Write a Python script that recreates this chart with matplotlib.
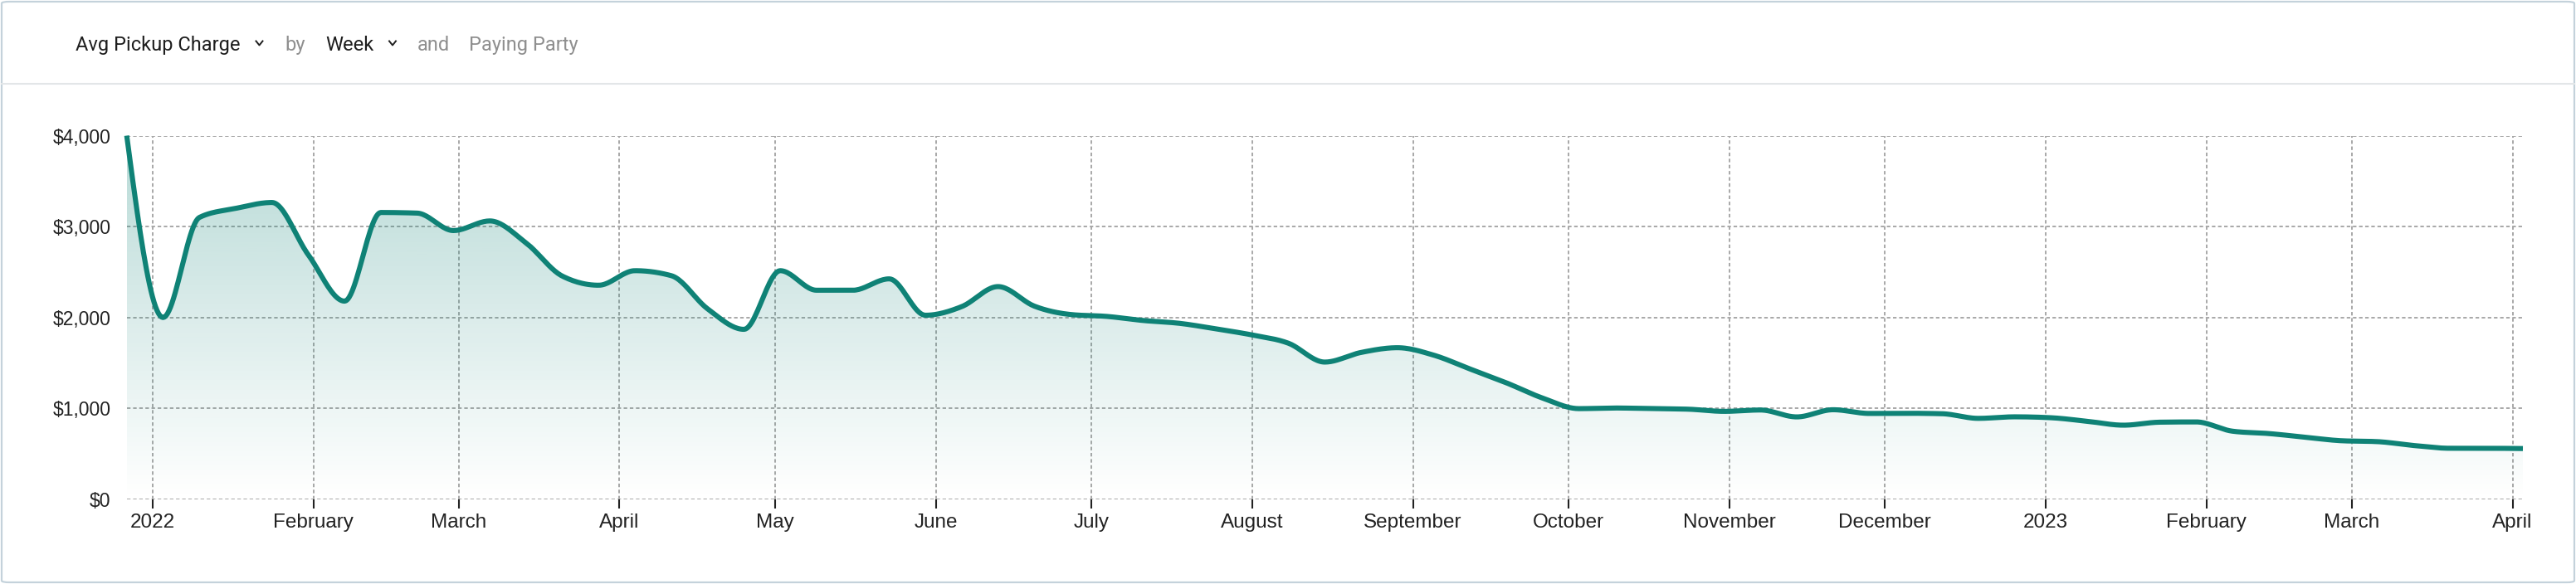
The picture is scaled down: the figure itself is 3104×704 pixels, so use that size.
import numpy as np
import pandas as pd
import matplotlib
matplotlib.use('Agg')
import matplotlib.pyplot as plt
import matplotlib.dates as mdates
from matplotlib.lines import Line2D
from matplotlib.patches import FancyBboxPatch
from matplotlib.ticker import FuncFormatter, FixedLocator

# weekly buckets (week start, Monday)
week_start = '2021-12-27'
n_weeks = 67
avg_charge = [4000, 2000, 3100, 3200, 3265, 2690, 2180, 3155, 3148, 2956,
              3062, 2820, 2455, 2355, 2515, 2460, 2095, 1870, 2515, 2300,
              2300, 2425, 2025, 2120, 2340, 2125, 2033, 2012, 1967, 1936,
              1875, 1808, 1717, 1510, 1616, 1668, 1586, 1434, 1282, 1114,
              998, 1005, 998, 992, 968, 983, 907, 986, 945, 947,
              942, 891, 908, 898, 859, 816, 849, 852, 750, 724,
              684, 645, 635, 592, 562, 562, 559]
y_ticks = [0, 1000, 2000, 3000, 4000]

TEAL = '#0f8276'
W, H = 3104, 704


def monotone_x(x, y, n=24):
    '''d3 style curveMonotoneX through the points'''
    x = np.asarray(x, float)
    y = np.asarray(y, float)
    h = np.diff(x)
    s = np.diff(y) / h
    t = np.zeros_like(y)
    for i in range(1, len(y) - 1):
        s0, s1 = s[i - 1], s[i]
        p = (s0 * h[i] + s1 * h[i - 1]) / (h[i - 1] + h[i])
        t[i] = (np.sign(s0) + np.sign(s1)) * min(abs(s0), abs(s1), 0.5 * abs(p))
    t[0] = (3 * s[0] - t[1]) / 2
    t[-1] = (3 * s[-1] - t[-2]) / 2
    xs, ys = [], []
    u = np.linspace(0, 1, n, endpoint=False)
    for i in range(len(h)):
        x0, x1, y0, y1 = x[i], x[i + 1], y[i], y[i + 1]
        c1x, c1y = x0 + h[i] / 3, y0 + h[i] / 3 * t[i]
        c2x, c2y = x1 - h[i] / 3, y1 - h[i] / 3 * t[i + 1]
        b0, b1, b2, b3 = (1 - u) ** 3, 3 * u * (1 - u) ** 2, 3 * u ** 2 * (1 - u), u ** 3
        xs.append(b0 * x0 + b1 * c1x + b2 * c2x + b3 * x1)
        ys.append(b0 * y0 + b1 * c1y + b2 * c2y + b3 * y1)
    xs.append([x[-1]])
    ys.append([y[-1]])
    return np.concatenate(xs), np.concatenate(ys)


weeks = pd.date_range(week_start, periods=n_weeks, freq='7D')
xnum = mdates.date2num(weeks)
cx, cy = monotone_x(xnum, avg_charge)

fig = plt.figure(figsize=(W / 100, H / 100), dpi=100)


def fx(p):
    return p / W


def fy(p):
    return 1 - p / H


ax_left, ax_right, ax_top, ax_bot = 152.7, 3040, 163.5, 602
ax = fig.add_axes([fx(ax_left), fy(ax_bot), (ax_right - ax_left) / W, (ax_bot - ax_top) / H])
ax.set_xlim(xnum[0], xnum[-1])
ax.set_ylim(0, 4000)

# gradient fill under the curve
poly = ax.fill_between(cx, cy, 0, facecolor='none', edgecolor='none')
grad = np.linspace(0.30, 0.0, 256).reshape(-1, 1)
rgba = np.zeros((256, 1, 4))
rgba[..., :3] = matplotlib.colors.to_rgb(TEAL)
rgba[..., 3] = grad
im = ax.imshow(rgba, extent=[xnum[0], xnum[-1], 0, 4000], aspect='auto',
               origin='upper', zorder=1)
im.set_clip_path(poly.get_paths()[0], transform=ax.transData)

ax.plot(cx, cy, color=TEAL, lw=4.4, solid_capstyle='butt', zorder=3, clip_on=False)

# axes styling
for sp in ax.spines.values():
    sp.set_visible(False)
ax.yaxis.set_major_locator(FixedLocator(y_ticks))
ax.yaxis.set_major_formatter(FuncFormatter(lambda v, _: '${:,.0f}'.format(v)))
ax.xaxis.set_major_locator(mdates.MonthLocator())
ax.xaxis.set_major_formatter(FuncFormatter(
    lambda v, _: mdates.num2date(v).strftime('%Y') if mdates.num2date(v).month == 1
    else mdates.num2date(v).strftime('%B')))
ax.grid(True, color='#a8a8a8', lw=1.4, linestyle=(0, (2.2, 1.6)), zorder=0)
ax.set_axisbelow(True)
ax.tick_params(axis='y', length=0, pad=14, labelsize=16.5, labelcolor='#222222')
ax.tick_params(axis='x', length=8, width=1.5, color='#222222', pad=4,
               labelsize=17.5, labelcolor='#222222')
for lab in ax.get_xticklabels() + ax.get_yticklabels():
    lab.set_family('Liberation Sans')

# header
hdr = [('Avg Pickup Charge', 91, '#1e1e1e'), ('by', 343, '#8f8f8f'),
       ('Week', 392, '#1e1e1e'), ('and', 502.5, '#8f8f8f'),
       ('Paying Party', 565, '#8f8f8f')]
for txt, xp, col in hdr:
    fig.text(fx(xp), fy(61), txt, fontsize=17, family='Roboto', color=col,
             ha='left', va='baseline')
for cxp in (312.5, 473):
    fig.add_artist(Line2D([fx(cxp - 4), fx(cxp), fx(cxp + 4)],
                          [fy(49.5), fy(54.5), fy(49.5)], color='#1e1e1e', lw=1.4))

fig.add_artist(Line2D([fx(2), fx(W - 2)], [fy(101), fy(101)], color='#e3e6e8', lw=1.5))
fig.add_artist(FancyBboxPatch((fx(2), fy(702)), fx(W - 4), (H - 4) / H,
                              boxstyle='round,pad=0,rounding_size=0.003',
                              transform=fig.transFigure, facecolor='none',
                              edgecolor='#c4d2db', lw=1.6))

fig.savefig('out.png', dpi=100, facecolor='white')
